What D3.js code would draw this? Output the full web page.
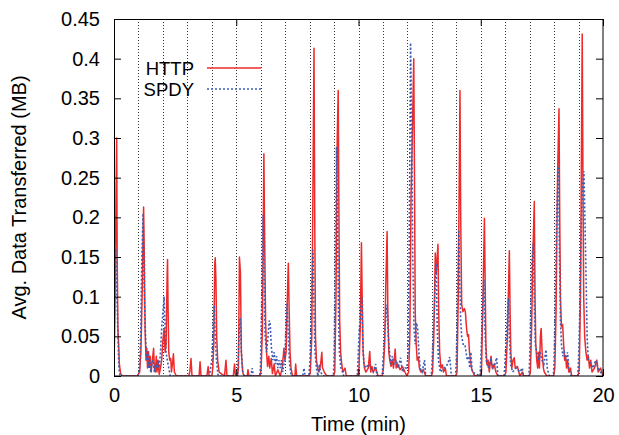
<!DOCTYPE html>
<html>
<head>
<meta charset="utf-8">
<script src="https://cdn.jsdelivr.net/npm/d3@7"></script>
<style>
  body { margin: 0; background: #fff; }
  svg { display: block; }
  text { font-family: "Liberation Sans", Arial, Helvetica, sans-serif; fill: #000; }
</style>
</head>
<body>
<svg id="chart" width="619" height="435"></svg>
<script>
// ---- data (time in minutes, value in MB) ----
const seriesNames = ["HTTP", "SPDY"];
const xTicks = [0, 5, 10, 15, 20];
const yTicks = [0, 0.05, 0.1, 0.15, 0.2, 0.25, 0.3, 0.35, 0.4, 0.45];
const gridMinutes = [1,2,3,4,5,6,7,8,9,10,11,12,13,14,15,16,17,18,19];

const httpData = [
  [0,0.01],[0.04,0.08],[0.08,0.22],[0.11,0.30],[0.13,0.15],[0.16,0.06],[0.19,0.04],[0.22,0.015],[0.27,0.003],[0.35,0],[0.95,0],
  [1.05,0.005],[1.1,0.03],[1.15,0.1],[1.21,0.213],[1.24,0.15],[1.27,0.06],[1.31,0.02],[1.34,0.035],[1.37,0.01],[1.41,0.031],[1.44,0.012],[1.48,0.025],[1.52,0.005],[1.57,0.02],[1.62,0.035],[1.65,0.01],[1.69,0.005],[1.73,0.025],[1.76,0.005],[1.8,0.02],[1.85,0.002],[1.9,0.01],[1.95,0.02],[2.0,0.045],[2.05,0.06],[2.09,0.03],[2.13,0.04],[2.17,0.12],[2.19,0.147],[2.21,0.09],[2.24,0.03],[2.28,0.02],[2.32,0.022],[2.35,0.005],[2.39,0.015],[2.43,0.028],[2.47,0.005],[2.55,0],
  [3.05,0],[3.1,0.005],[3.15,0.022],[3.19,0],[3.48,0],[3.52,0.018],[3.56,0],[3.8,0],[3.85,0.012],[3.89,0],[4.0,0],
  [4.04,0.01],[4.08,0.04],[4.12,0.14],[4.14,0.149],[4.17,0.12],[4.2,0.05],[4.24,0.02],[4.3,0.005],[4.52,0],[4.58,0.02],[4.62,0],[4.88,0],[4.93,0.015],[4.97,0],[5.05,0],
  [5.09,0.01],[5.13,0.15],[5.17,0.13],[5.21,0.03],[5.26,0.005],[5.32,0],[5.45,0],[5.48,0.008],[5.52,0],[5.98,0],
  [6.02,0.01],[6.07,0.06],[6.13,0.28],[6.16,0.18],[6.2,0.07],[6.24,0.03],[6.28,0.012],[6.33,0.025],[6.37,0.01],[6.43,0.022],[6.48,0.003],[6.55,0.015],[6.6,0],[6.7,0.008],[6.8,0],[6.88,0.01],[6.95,0.035],[6.99,0.02],[7.04,0.03],[7.09,0.1],[7.13,0.142],[7.16,0.09],[7.2,0.03],[7.24,0.01],[7.3,0],[7.4,0],[7.43,0.015],[7.47,0],[7.98,0],
  [8.03,0.005],[8.09,0.05],[8.14,0.25],[8.18,0.413],[8.21,0.2],[8.24,0.05],[8.28,0.02],[8.33,0.01],[8.38,0.005],[8.45,0.014],[8.5,0.03],[8.53,0.01],[8.6,0.005],[8.7,0],[8.98,0],
  [9.03,0.005],[9.08,0.1],[9.13,0.3],[9.17,0.36],[9.2,0.2],[9.23,0.07],[9.27,0.03],[9.31,0.016],[9.36,0.005],[9.45,0.01],[9.5,0],[9.97,0],
  [10.02,0.01],[10.07,0.06],[10.12,0.168],[10.15,0.1],[10.19,0.03],[10.24,0.01],[10.3,0.005],[10.4,0.01],[10.46,0.031],[10.5,0.005],[10.55,0.012],[10.6,0.005],[10.7,0.01],[10.8,0],[10.97,0],
  [11.02,0.01],[11.07,0.04],[11.12,0.12],[11.17,0.182],[11.2,0.08],[11.24,0.03],[11.28,0.02],[11.33,0.012],[11.38,0.02],[11.43,0.01],[11.5,0.034],[11.54,0.01],[11.6,0.015],[11.7,0.008],[11.8,0.012],[11.9,0.005],[11.98,0],
  [12.05,0.005],[12.1,0.05],[12.15,0.23],[12.2,0.3],[12.26,0.40],[12.29,0.25],[12.32,0.08],[12.36,0.04],[12.4,0.02],[12.45,0.024],[12.49,0.01],[12.55,0.005],[12.65,0.008],[12.75,0],[12.98,0],
  [13.03,0.005],[13.08,0.05],[13.14,0.155],[13.18,0.13],[13.25,0.166],[13.28,0.08],[13.32,0.03],[13.37,0.01],[13.43,0.014],[13.48,0.005],[13.55,0.01],[13.6,0],[13.98,0],
  [14.03,0.005],[14.08,0.1],[14.15,0.36],[14.18,0.2],[14.22,0.09],[14.27,0.081],[14.33,0.085],[14.37,0.081],[14.42,0.06],[14.46,0.05],[14.5,0.052],[14.54,0.03],[14.58,0.02],[14.62,0.01],[14.68,0.005],[14.75,0],[14.98,0],
  [15.03,0.005],[15.08,0.08],[15.15,0.199],[15.18,0.12],[15.21,0.04],[15.25,0.015],[15.3,0.02],[15.35,0.005],[15.42,0.025],[15.47,0.01],[15.55,0.015],[15.62,0.005],[15.7,0],[15.98,0],
  [16.03,0.005],[16.09,0.05],[16.17,0.158],[16.2,0.08],[16.23,0.03],[16.27,0.01],[16.32,0.02],[16.37,0.023],[16.41,0.01],[16.5,0.012],[16.6,0],[16.7,0.005],[16.75,0],[16.98,0],
  [17.03,0.005],[17.08,0.06],[17.13,0.15],[17.19,0.22],[17.22,0.1],[17.25,0.04],[17.29,0.02],[17.33,0.01],[17.37,0.03],[17.4,0.01],[17.44,0.05],[17.47,0.06],[17.51,0.03],[17.56,0.01],[17.6,0.005],[17.7,0],[17.98,0],
  [18.03,0.01],[18.08,0.08],[18.14,0.25],[18.2,0.337],[18.23,0.2],[18.26,0.1],[18.3,0.062],[18.35,0.065],[18.39,0.04],[18.43,0.02],[18.47,0.025],[18.51,0.01],[18.55,0.02],[18.6,0.005],[18.67,0.01],[18.72,0],[18.98,0],
  [19.03,0.01],[19.08,0.1],[19.15,0.431],[19.18,0.25],[19.21,0.1],[19.25,0.05],[19.3,0.03],[19.35,0.02],[19.4,0.025],[19.45,0.01],[19.5,0.02],[19.55,0.005],[19.65,0.01],[19.75,0.02],[19.8,0.005],[19.9,0.01],[20,0]
];

const spdyData = [
  [0,0.1],[0.04,0.14],[0.07,0.16],[0.1,0.12],[0.13,0.09],[0.16,0.05],[0.2,0.01],[0.25,0],[0.98,0],
  [1.04,0.01],[1.09,0.05],[1.14,0.15],[1.19,0.205],[1.23,0.12],[1.28,0.06],[1.31,0.03],[1.35,0.02],[1.38,0.03],[1.42,0.01],[1.46,0.02],[1.5,0.005],[1.55,0.015],[1.6,0.02],[1.65,0.005],[1.7,0.015],[1.75,0.01],[1.8,0.02],[1.85,0.01],[1.9,0.03],[1.95,0.06],[2.0,0.08],[2.05,0.10],[2.09,0.06],[2.13,0.03],[2.18,0.02],[2.24,0.01],[2.3,0],[3.9,0],
  [3.95,0.01],[4.0,0.02],[4.05,0.06],[4.1,0.089],[4.14,0.05],[4.19,0.02],[4.26,0],[5.05,0],
  [5.1,0.04],[5.16,0.073],[5.21,0.03],[5.27,0.005],[5.32,0],[5.6,0],[5.65,0.01],[5.7,0],[5.96,0],
  [5.99,0.01],[6.03,0.08],[6.07,0.15],[6.1,0.203],[6.14,0.12],[6.18,0.05],[6.24,0.03],[6.3,0.05],[6.35,0.07],[6.39,0.065],[6.44,0.035],[6.5,0.02],[6.55,0.03],[6.6,0.015],[6.65,0.025],[6.7,0.01],[6.75,0.02],[6.8,0.01],[6.85,0.02],[6.9,0.005],
  [6.98,0.02],[7.03,0.06],[7.08,0.092],[7.13,0.05],[7.18,0.015],[7.25,0],[7.72,0],[7.77,0.01],[7.82,0],[7.97,0],
  [8.02,0.02],[8.08,0.1],[8.14,0.159],[8.18,0.08],[8.22,0.03],[8.28,0.01],[8.34,0],[8.4,0.015],[8.45,0.005],[8.55,0],[8.97,0],
  [9.0,0.02],[9.05,0.15],[9.1,0.289],[9.14,0.2],[9.18,0.08],[9.22,0.03],[9.28,0.01],[9.35,0.005],[9.4,0],[9.95,0],
  [9.98,0.02],[10.03,0.06],[10.08,0.07],[10.13,0.10],[10.18,0.04],[10.22,0.015],[10.3,0.01],[10.4,0.015],[10.5,0.01],[10.6,0.005],[10.7,0.015],[10.75,0],[10.97,0],
  [11.0,0.02],[11.05,0.04],[11.1,0.067],[11.17,0.09],[11.22,0.05],[11.27,0.03],[11.32,0.015],[11.38,0.025],[11.45,0.015],[11.55,0.02],[11.62,0.01],[11.72,0.023],[11.8,0.005],[11.9,0.01],
  [11.98,0.01],[12.03,0.03],[12.07,0.15],[12.13,0.42],[12.18,0.3],[12.22,0.15],[12.27,0.06],[12.32,0.04],[12.37,0.067],[12.42,0.06],[12.47,0.03],[12.52,0.01],[12.6,0.005],[12.7,0.02],[12.75,0],[12.97,0],
  [13.0,0.01],[13.05,0.05],[13.1,0.08],[13.14,0.12],[13.18,0.142],[13.22,0.06],[13.27,0.02],[13.35,0.005],[13.5,0.01],[13.65,0.015],[13.73,0.024],[13.8,0],[13.97,0],
  [14.0,0.02],[14.05,0.1],[14.1,0.184],[14.14,0.12],[14.18,0.07],[14.22,0.05],[14.28,0.04],[14.35,0.04],[14.4,0.03],[14.45,0.02],[14.5,0.025],[14.55,0.01],[14.6,0.03],[14.65,0.005],[14.97,0],
  [15.0,0.02],[15.05,0.06],[15.09,0.1],[15.13,0.121],[15.17,0.06],[15.22,0.02],[15.3,0.01],[15.4,0.02],[15.5,0.01],[15.58,0.015],[15.65,0.023],[15.7,0],[15.95,0],
  [15.98,0.01],[16.03,0.04],[16.08,0.07],[16.13,0.098],[16.17,0.05],[16.22,0.015],[16.3,0.005],[16.45,0.01],[16.6,0.005],[16.7,0.01],[16.75,0],[16.97,0],
  [17.0,0.02],[17.04,0.08],[17.08,0.14],[17.15,0.168],[17.19,0.09],[17.23,0.04],[17.3,0.03],[17.35,0.02],[17.42,0.03],[17.5,0.02],[17.58,0.015],[17.67,0.033],[17.72,0.01],[17.8,0],[17.97,0],
  [18.0,0.02],[18.05,0.1],[18.1,0.2],[18.18,0.264],[18.22,0.15],[18.26,0.07],[18.3,0.04],[18.36,0.025],[18.42,0.03],[18.48,0.02],[18.55,0.03],[18.6,0.01],[18.7,0],[18.97,0],
  [19.0,0.02],[19.05,0.08],[19.12,0.2],[19.17,0.24],[19.22,0.258],[19.26,0.2],[19.3,0.136],[19.35,0.05],[19.4,0.02],[19.5,0.015],[19.6,0.01],[19.7,0.02],[19.8,0.01],[19.9,0.005],[20,0]
];

// ---- layout ----
const W = 619, H = 435;
const margin = { left: 114, top: 19, right: 16, bottom: 59 };
const iw = W - margin.left - margin.right;
const ih = H - margin.top - margin.bottom;

const svg = d3.select("#chart");
const g = svg.append("g").attr("transform", `translate(${margin.left},${margin.top})`);

const x = d3.scaleLinear().domain([0, 20]).range([0, iw]);
const y = d3.scaleLinear().domain([0, 0.45]).range([ih, 0]);

svg.append("defs").append("clipPath").attr("id", "clip")
  .append("rect").attr("width", iw).attr("height", ih);

// vertical dotted grid at each minute
g.append("g").selectAll("line").data(gridMinutes).join("line")
  .attr("x1", d => Math.round(x(d)) + 0.5).attr("x2", d => Math.round(x(d)) + 0.5)
  .attr("y1", 0).attr("y2", ih)
  .attr("stroke", "#333").attr("stroke-width", 1).attr("stroke-dasharray", "1,2");

// series
const line = d3.line().x(d => x(d[0])).y(d => y(d[1]));
const lines = g.append("g").attr("clip-path", "url(#clip)");
lines.append("path").datum(httpData).attr("d", line)
  .attr("fill", "none").attr("stroke", "#ee2a2a").attr("stroke-width", 1.5).attr("stroke-linejoin", "round");
lines.append("path").datum(spdyData).attr("d", line)
  .attr("fill", "none").attr("stroke", "#3d5db3").attr("stroke-width", 1.6).attr("stroke-dasharray", "2,2");

// axes (gnuplot style: inward ticks, mirrored)
const fmtY = d => d === 0 ? "0" : d3.format(".2~f")(d);
const axB = g.append("g").attr("transform", `translate(0,${ih})`)
  .call(d3.axisBottom(x).tickValues(xTicks).tickSize(-7).tickPadding(12).tickFormat(d3.format("d")));
const axT = g.append("g")
  .call(d3.axisTop(x).tickValues(xTicks).tickSize(-7).tickFormat(""));
const axL = g.append("g")
  .call(d3.axisLeft(y).tickValues(yTicks).tickSize(-7).tickPadding(14).tickFormat(fmtY));
const axR = g.append("g").attr("transform", `translate(${iw},0)`)
  .call(d3.axisRight(y).tickValues(yTicks).tickSize(-7).tickFormat(""));
[axB, axT, axL, axR].forEach(a => {
  a.select(".domain").remove();
  a.selectAll("line").attr("stroke", "#000");
  a.selectAll("text").style("font-size", "20px").attr("fill", "#000")
    .style("font-family", '"Liberation Sans", Arial, sans-serif');
});
axB.selectAll("text").attr("dy", "0.71em");

// frame
g.append("rect").attr("x", 0.5).attr("y", 0.5).attr("width", iw - 0.5).attr("height", ih - 0.5)
  .attr("fill", "none").attr("stroke", "#000").attr("stroke-width", 1);

// axis titles
svg.append("text").attr("x", margin.left + iw / 2).attr("y", 431)
  .attr("text-anchor", "middle").style("font-size", "20px").text("Time (min)");
svg.append("text").attr("transform", `translate(26,${margin.top + ih / 2}) rotate(-90)`)
  .attr("text-anchor", "middle").style("font-size", "20px").text("Avg. Data Transferred (MB)");

// legend
const legend = svg.append("g");
const legendRows = [
  { name: seriesNames[0], color: "#ee2a2a", dash: null, w: 1.5 },
  { name: seriesNames[1], color: "#3d5db3", dash: "2,2", w: 1.6 }
];
legendRows.forEach((r, i) => {
  const yy = 68 + i * 21;
  legend.append("text").attr("x", 194).attr("y", yy).attr("dy", "0.36em")
    .attr("text-anchor", "end").style("font-size", "18.5px").text(r.name);
  legend.append("line").attr("x1", 207).attr("x2", 261).attr("y1", yy).attr("y2", yy)
    .attr("stroke", r.color).attr("stroke-width", r.w).attr("stroke-dasharray", r.dash);
});
</script>
</body>
</html>
